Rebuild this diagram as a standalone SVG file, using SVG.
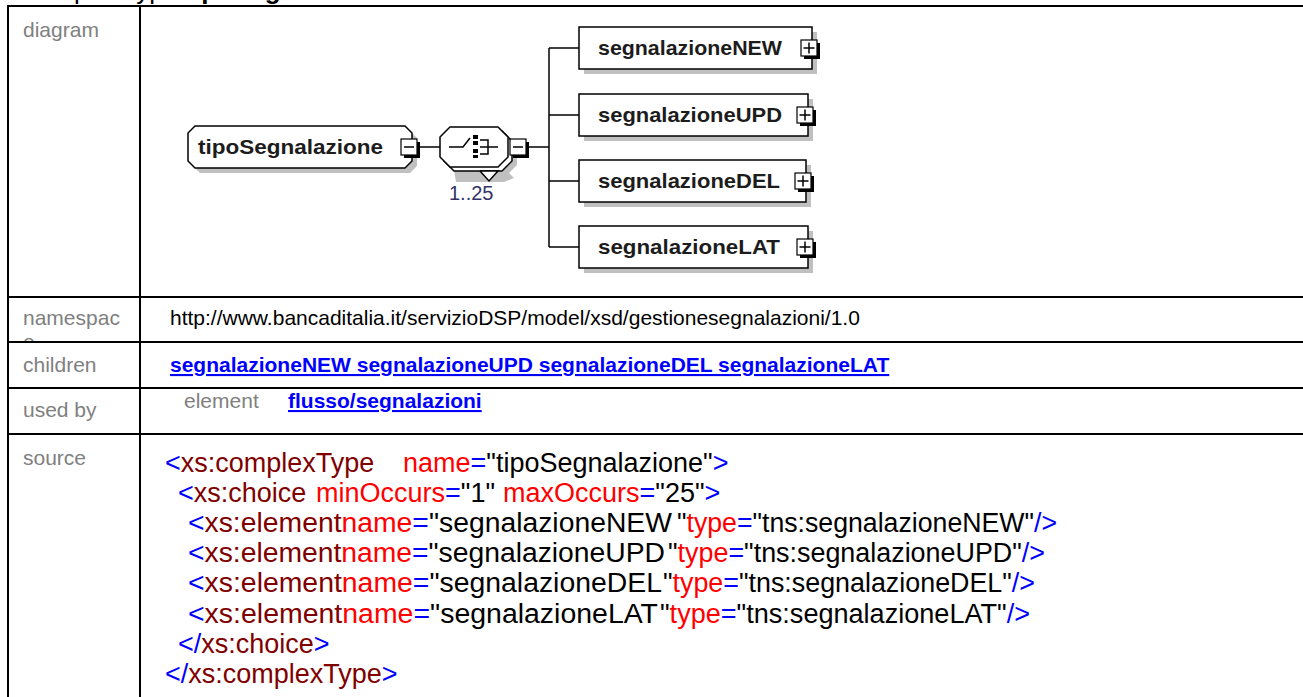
<svg xmlns="http://www.w3.org/2000/svg" width="1303" height="697" viewBox="0 0 1303 697">
<style>
.grid{stroke:#000;stroke-width:2;fill:none}
.lbl{font-family:"Liberation Sans",Arial,sans-serif;font-size:21px;fill:#808080}
.val{font-family:"Liberation Sans",Arial,sans-serif;font-size:21px;fill:#000}
.lnk{font-family:"Liberation Sans",Arial,sans-serif;font-size:21px;font-weight:bold;fill:#0000ff;text-decoration:underline}
.src text{font-family:"Liberation Sans",Arial,sans-serif;font-size:27px}
.b{fill:#0000ff}.m{fill:#800000}.r{fill:#ff0000}.k{fill:#000}
.shadow{fill:#c0c0c0;stroke:none}
.box{fill:#fff;stroke:#000;stroke-width:1.5}
.conn{stroke:#000;stroke-width:1.5;fill:none}
.ntxt{font-family:"Liberation Sans",Arial,sans-serif;font-size:21px;font-weight:bold;fill:#1c1c1c}
.btnsh{fill:#000}
.btn{fill:#fff;stroke:#000;stroke-width:1.2}
.sign{stroke:#000;stroke-width:1.5;fill:none}
</style>
<defs>
<clipPath id="nsclip"><rect x="9" y="298" width="130" height="43"/></clipPath>
</defs>
<rect x="0" y="0" width="1303" height="697" fill="#fff"/>

<g id="header">
<text x="25" y="-1" style="font-family:'Liberation Sans',Arial,sans-serif;font-size:26px" fill="#000">complexType <tspan font-weight="bold">tipoSegnalazione</tspan></text>
</g>

<g id="table">
<line class="grid" x1="8" y1="6" x2="1303" y2="6"/>
<line class="grid" x1="8" y1="297" x2="1303" y2="297"/>
<line class="grid" x1="8" y1="342" x2="1303" y2="342"/>
<line class="grid" x1="8" y1="388" x2="1303" y2="388"/>
<line class="grid" x1="8" y1="434" x2="1303" y2="434"/>
<line class="grid" x1="8" y1="5" x2="8" y2="697"/>
<line class="grid" x1="140" y1="5" x2="140" y2="697"/>
<text class="lbl" x="23" y="37">diagram</text>
<text class="lbl" x="23" y="325">namespac</text>
<text class="lbl" x="23" y="349" clip-path="url(#nsclip)">e</text>
<text class="lbl" x="23" y="372">children</text>
<text class="lbl" x="23" y="417">used by</text>
<text class="lbl" x="23" y="465">source</text>
<text class="val" x="170" y="325">http://www.bancaditalia.it/servizioDSP/model/xsd/gestionesegnalazioni/1.0</text>
<text class="lnk" x="170" y="372">segnalazioneNEW segnalazioneUPD segnalazioneDEL segnalazioneLAT</text>
<text class="lbl" x="184" y="408">element</text>
<text class="lnk" x="288" y="408">flusso/segnalazioni</text>
</g>

<g id="source" class="src">
<text y="472"><tspan class="b" x="165">&lt;</tspan><tspan class="m">xs:complexType</tspan><tspan class="r" x="403">name</tspan><tspan class="b">=</tspan><tspan class="k">"tipoSegnalazione"</tspan><tspan class="b">&gt;</tspan></text>
<text y="502"><tspan class="b" x="178">&lt;</tspan><tspan class="m">xs:choice</tspan><tspan class="r" x="316">minOccurs</tspan><tspan class="b">=</tspan><tspan class="k">"1"</tspan><tspan class="r" x="503">maxOccurs</tspan><tspan class="b">=</tspan><tspan class="k">"25"</tspan><tspan class="b">&gt;</tspan></text>

<text x="188" y="532" textLength="484" lengthAdjust="spacingAndGlyphs"><tspan class="b">&lt;</tspan><tspan class="m">xs:element</tspan><tspan class="r">name</tspan><tspan class="b">=</tspan><tspan class="k">"segnalazioneNEW</tspan></text>
<text x="677" y="532" textLength="380" lengthAdjust="spacingAndGlyphs"><tspan class="k">"</tspan><tspan class="r">type</tspan><tspan class="b">=</tspan><tspan class="k">"tns:segnalazioneNEW"</tspan><tspan class="b">/&gt;</tspan></text>

<text x="188" y="562" textLength="477" lengthAdjust="spacingAndGlyphs"><tspan class="b">&lt;</tspan><tspan class="m">xs:element</tspan><tspan class="r">name</tspan><tspan class="b">=</tspan><tspan class="k">"segnalazioneUPD</tspan></text>
<text x="668" y="562" textLength="377" lengthAdjust="spacingAndGlyphs"><tspan class="k">"</tspan><tspan class="r">type</tspan><tspan class="b">=</tspan><tspan class="k">"tns:segnalazioneUPD"</tspan><tspan class="b">/&gt;</tspan></text>

<text x="188" y="592" textLength="474" lengthAdjust="spacingAndGlyphs"><tspan class="b">&lt;</tspan><tspan class="m">xs:element</tspan><tspan class="r">name</tspan><tspan class="b">=</tspan><tspan class="k">"segnalazioneDEL</tspan></text>
<text x="663" y="592" textLength="372" lengthAdjust="spacingAndGlyphs"><tspan class="k">"</tspan><tspan class="r">type</tspan><tspan class="b">=</tspan><tspan class="k">"tns:segnalazioneDEL"</tspan><tspan class="b">/&gt;</tspan></text>

<text x="188" y="623" textLength="470" lengthAdjust="spacingAndGlyphs"><tspan class="b">&lt;</tspan><tspan class="m">xs:element</tspan><tspan class="r">name</tspan><tspan class="b">=</tspan><tspan class="k">"segnalazioneLAT</tspan></text>
<text x="660" y="623" textLength="370" lengthAdjust="spacingAndGlyphs"><tspan class="k">"</tspan><tspan class="r">type</tspan><tspan class="b">=</tspan><tspan class="k">"tns:segnalazioneLAT"</tspan><tspan class="b">/&gt;</tspan></text>

<text y="653"><tspan class="b" x="178">&lt;/</tspan><tspan class="m">xs:choice</tspan><tspan class="b">&gt;</tspan></text>
<text y="683"><tspan class="b" x="165">&lt;/</tspan><tspan class="m">xs:complexType</tspan><tspan class="b">&gt;</tspan></text>
</g>

<g id="connectors">
<line class="conn" x1="418" y1="147" x2="440" y2="147"/>
<line class="conn" x1="527" y1="147" x2="549" y2="147"/>
<line class="conn" x1="549" y1="48" x2="549" y2="247"/>
<line class="conn" x1="549" y1="48" x2="579" y2="48"/>
<line class="conn" x1="549" y1="115" x2="579" y2="115"/>
<line class="conn" x1="549" y1="181" x2="579" y2="181"/>
<line class="conn" x1="549" y1="247" x2="579" y2="247"/>
</g>

<g id="node-tipoSegnalazione">
<polygon class="shadow" points="200,131 410,131 417,138 417,166 410,173 200,173 193,166 193,138"/>
<polygon class="box" points="195,126 405,126 412,133 412,161 405,168 195,168 188,161 188,133"/>
<text class="ntxt" x="198" y="154" textLength="185" lengthAdjust="spacingAndGlyphs">tipoSegnalazione</text>
<rect class="btnsh" x="404" y="142" width="16" height="16"/>
<rect class="btn" x="401" y="139" width="16" height="16"/>
<line class="sign" x1="404" y1="147" x2="414" y2="147"/>
</g>

<g id="node-choice">
<polygon class="shadow" points="459,135 507,135 517,145 517,165 507,175 459,175 449,165 449,145"/>
<polygon class="shadow" points="454,170 506,170 514,178 504,182 456,182"/>
<polygon class="box" points="454,131 502,131 512,141 512,161 502,171 454,171 444,161 444,141"/>
<polyline class="box" points="480,171 498,171 489,181 480,171"/>
<polygon class="box" points="450,127 498,127 508,137 508,157 498,167 450,167 440,157 440,137"/>
<polyline class="sign" points="449,147 463,147 470,138"/>
<rect x="473" y="135" width="5" height="4" fill="#000"/>
<rect x="473" y="141" width="5" height="4" fill="#000"/>
<rect x="473" y="149" width="5" height="4" fill="#000"/>
<rect x="473" y="155" width="5" height="3" fill="#000"/>
<polyline class="sign" points="480,140 488,140 488,154 480,154"/>
<line class="sign" x1="480" y1="147" x2="498" y2="147"/>
<rect class="btnsh" x="513" y="142" width="16" height="16"/>
<rect class="btn" x="510" y="139" width="16" height="16"/>
<line class="sign" x1="513" y1="147" x2="523" y2="147"/>
<text x="449" y="200" style="font-family:'Liberation Sans',Arial,sans-serif;font-size:20px;fill:#333366">1..25</text>
</g>

<g id="node-segnalazioneNEW">
<rect class="shadow" x="584" y="32" width="233" height="42"/>
<rect class="box" x="579" y="27" width="233" height="42"/>
<text class="ntxt" x="598" y="55" textLength="184" lengthAdjust="spacingAndGlyphs">segnalazioneNEW</text>
<rect class="btnsh" x="804" y="43" width="16" height="16"/>
<rect class="btn" x="801" y="40" width="16" height="16"/>
<path class="sign" d="M803.5 48h11M809 42.5v11"/>
</g>

<g id="node-segnalazioneUPD">
<rect class="shadow" x="584" y="99" width="229" height="42"/>
<rect class="box" x="579" y="94" width="229" height="42"/>
<text class="ntxt" x="598" y="122" textLength="184" lengthAdjust="spacingAndGlyphs">segnalazioneUPD</text>
<rect class="btnsh" x="800" y="110" width="16" height="16"/>
<rect class="btn" x="797" y="107" width="16" height="16"/>
<path class="sign" d="M799.5 115h11M805 109.5v11"/>
</g>

<g id="node-segnalazioneDEL">
<rect class="shadow" x="584" y="165" width="227" height="42"/>
<rect class="box" x="579" y="160" width="227" height="42"/>
<text class="ntxt" x="598" y="188" textLength="182" lengthAdjust="spacingAndGlyphs">segnalazioneDEL</text>
<rect class="btnsh" x="798" y="176" width="16" height="16"/>
<rect class="btn" x="795" y="173" width="16" height="16"/>
<path class="sign" d="M797.5 181h11M803 175.5v11"/>
</g>

<g id="node-segnalazioneLAT">
<rect class="shadow" x="584" y="231" width="229" height="42"/>
<rect class="box" x="579" y="226" width="229" height="42"/>
<text class="ntxt" x="598" y="254" textLength="182" lengthAdjust="spacingAndGlyphs">segnalazioneLAT</text>
<rect class="btnsh" x="800" y="242" width="16" height="16"/>
<rect class="btn" x="797" y="239" width="16" height="16"/>
<path class="sign" d="M799.5 247h11M805 241.5v11"/>
</g>
</svg>
